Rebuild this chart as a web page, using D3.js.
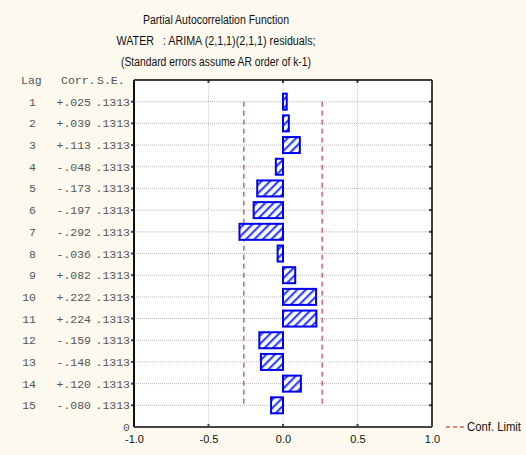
<!DOCTYPE html>
<html>
<head>
<meta charset="utf-8">
<script src="https://cdn.jsdelivr.net/npm/d3@7"></script>
<style>
  body { margin: 0; background: #fdf9ef; }
  svg { display: block; }
</style>
</head>
<body>
<div id="chart"></div>
<script>
// partial autocorrelations by lag
const LAGS = [1, 2, 3, 4, 5, 6, 7, 8, 9, 10, 11, 12, 13, 14, 15];
const CORR = [0.025, 0.039, 0.113, -0.048, -0.173, -0.197, -0.292, -0.036, 0.082, 0.222, 0.224, -0.159, -0.148, 0.12, -0.08];
const SE = [0.1313, 0.1313, 0.1313, 0.1313, 0.1313, 0.1313, 0.1313, 0.1313, 0.1313, 0.1313, 0.1313, 0.1313, 0.1313, 0.1313, 0.1313];
const X_TICKS = [-1.0, -0.5, 0.0, 0.5, 1.0];
const TITLES = [
  "Partial Autocorrelation Function",
  "WATER   : ARIMA (2,1,1)(2,1,1) residuals;",
  "(Standard errors assume AR order of k-1)",
];

const W = 526, H = 455;
const plot = { left: 134, right: 432, top: 80, bottom: 427 };
const sans = "Liberation Sans, Arial, sans-serif";
// title widths (the original uses a condensed face)
const titleCenter = 216;
const titleWidths = [146, 199, 190];

const fmtCorr = (v) => (v >= 0 ? "+" : "-") + d3.format(".3f")(Math.abs(v)).replace(/^0/, "");
const fmtSE = (v) => d3.format(".4f")(v).replace(/^0/, "");

const svg = d3.select("#chart").append("svg").attr("width", W).attr("height", H);

const defs = svg.append("defs");
const pat = defs.append("pattern")
  .attr("id", "hatch")
  .attr("patternUnits", "userSpaceOnUse")
  .attr("width", 6).attr("height", 6)
  .attr("patternTransform", "rotate(45)");
pat.append("rect").attr("width", 6).attr("height", 6).attr("fill", "#fff");
pat.append("rect").attr("width", 2.2).attr("height", 6).attr("fill", "#3344ff");

const x = d3.scaleLinear().domain([-1, 1]).range([plot.left, plot.right]);
// lag 1 at the top, lag 15 near the bottom; the bottom edge is labelled 0
const y = d3.scaleLinear().domain([0, 16]).range([plot.top, plot.bottom]);

// plot background
svg.append("rect")
  .attr("x", plot.left).attr("y", plot.top)
  .attr("width", plot.right - plot.left).attr("height", plot.bottom - plot.top)
  .attr("fill", "#fff");

// gridlines
svg.append("g").selectAll("line").data(LAGS).join("line")
  .attr("x1", plot.left).attr("x2", plot.right)
  .attr("y1", (d) => y(d)).attr("y2", (d) => y(d))
  .attr("stroke", "#bbb").attr("stroke-width", 1).attr("stroke-dasharray", "1,1");
svg.append("g").selectAll("line").data([-0.5, 0, 0.5]).join("line")
  .attr("x1", (d) => x(d)).attr("x2", (d) => x(d))
  .attr("y1", plot.top).attr("y2", plot.bottom)
  .attr("stroke", "#ccc").attr("stroke-width", 1).attr("stroke-dasharray", "1,1");

// confidence limits
const lim = 2 * SE[0];
svg.append("g").selectAll("line").data([-lim, lim]).join("line")
  .attr("x1", (d) => x(d)).attr("x2", (d) => x(d))
  .attr("y1", y(LAGS[0])).attr("y2", y(LAGS[LAGS.length - 1]))
  .attr("stroke", "#d01010").attr("stroke-width", 1).attr("stroke-dasharray", "5,4");

// bars
const barH = 16;
svg.append("g").selectAll("rect").data(LAGS).join("rect")
  .attr("x", (d, i) => x(Math.min(0, CORR[i])))
  .attr("width", (d, i) => Math.max(2, Math.abs(x(CORR[i]) - x(0))))
  .attr("y", (d) => y(d) - barH / 2)
  .attr("height", barH)
  .attr("fill", "url(#hatch)")
  .attr("stroke", "#0000ee").attr("stroke-width", 2);

// x axis labels
const xAxis = svg.append("g")
  .attr("transform", `translate(0,${plot.bottom})`)
  .call(d3.axisBottom(x).tickValues(X_TICKS).tickFormat(d3.format(".1f")).tickSize(0).tickPadding(8));
xAxis.select(".domain").remove();
xAxis.selectAll("text")
  .attr("font-family", sans)
  .attr("font-size", 11).attr("fill", "#111")
  .text((d) => d3.format(".1f")(d).replace("−", "-"));

// tick marks
const tickG = svg.append("g").attr("stroke", "#444").attr("stroke-width", 2);
tickG.selectAll(".tl").data(LAGS).join("line")
  .attr("x1", plot.left - 3).attr("x2", plot.left)
  .attr("y1", (d) => y(d)).attr("y2", (d) => y(d));
tickG.selectAll(".tr").data(LAGS).join("line")
  .attr("x1", plot.right - 3).attr("x2", plot.right)
  .attr("y1", (d) => y(d)).attr("y2", (d) => y(d));
tickG.selectAll(".tt").data([-0.5, 0, 0.5]).join("line")
  .attr("x1", (d) => x(d)).attr("x2", (d) => x(d))
  .attr("y1", plot.top).attr("y2", plot.top + 3);
tickG.selectAll(".tb").data([-0.5, 0, 0.5]).join("line")
  .attr("x1", (d) => x(d)).attr("x2", (d) => x(d))
  .attr("y1", plot.bottom).attr("y2", plot.bottom - 3);

// frame
svg.append("line").attr("x1", plot.left).attr("x2", plot.right)
  .attr("y1", plot.top).attr("y2", plot.top).attr("stroke", "#000").attr("stroke-width", 1.5);
svg.append("line").attr("x1", plot.right).attr("x2", plot.right)
  .attr("y1", plot.top).attr("y2", plot.bottom).attr("stroke", "#000").attr("stroke-width", 1.5);
svg.append("line").attr("x1", plot.left).attr("x2", plot.left)
  .attr("y1", plot.top).attr("y2", plot.bottom).attr("stroke", "#111").attr("stroke-width", 2);
svg.append("line").attr("x1", plot.left).attr("x2", plot.right)
  .attr("y1", plot.bottom).attr("y2", plot.bottom).attr("stroke", "#444").attr("stroke-width", 2);

// left table text
const mono = "Liberation Mono, Courier New, monospace";
const table = svg.append("g")
  .attr("font-family", mono).attr("font-size", 11.5).attr("fill", "#555");
const headY = plot.top + 4;
table.append("text").attr("x", 21).attr("y", headY).text("Lag");
table.append("text").attr("x", 61).attr("y", headY).text("Corr.");
table.append("text").attr("x", 97).attr("y", headY).text("S.E.");
table.selectAll(".lag").data(LAGS).join("text")
  .attr("x", 36).attr("y", (d) => y(d) + 4).attr("text-anchor", "end")
  .text((d) => d);
table.selectAll(".corr").data(LAGS).join("text")
  .attr("x", 91).attr("y", (d) => y(d) + 4).attr("text-anchor", "end")
  .text((d, i) => fmtCorr(CORR[i]));
table.selectAll(".se").data(LAGS).join("text")
  .attr("x", 130).attr("y", (d) => y(d) + 4).attr("text-anchor", "end")
  .text((d, i) => fmtSE(SE[i]));
table.append("text").attr("x", 130).attr("y", plot.bottom + 4).attr("text-anchor", "end").text("0");

// titles
svg.append("g").selectAll("text").data(TITLES).join("text")
  .attr("x", (d, i) => titleCenter - titleWidths[i] / 2).attr("y", (d, i) => 24 + i * 21)
  .attr("textLength", (d, i) => titleWidths[i])
  .attr("lengthAdjust", "spacingAndGlyphs")
  .attr("font-family", sans)
  .attr("font-size", 12).attr("fill", "#111")
  .style("white-space", "pre")
  .text((d) => d);

// legend
const leg = svg.append("g").attr("transform", `translate(446,${plot.bottom})`);
leg.append("line").attr("x1", 0).attr("x2", 18).attr("y1", 0).attr("y2", 0)
  .attr("stroke", "#d01010").attr("stroke-width", 1).attr("stroke-dasharray", "4,3");
leg.append("text").attr("x", 21).attr("y", 4)
  .attr("font-family", sans)
  .attr("font-size", 12).attr("fill", "#111")
  .attr("textLength", 54).attr("lengthAdjust", "spacingAndGlyphs")
  .text("Conf. Limit");
</script>
</body>
</html>
